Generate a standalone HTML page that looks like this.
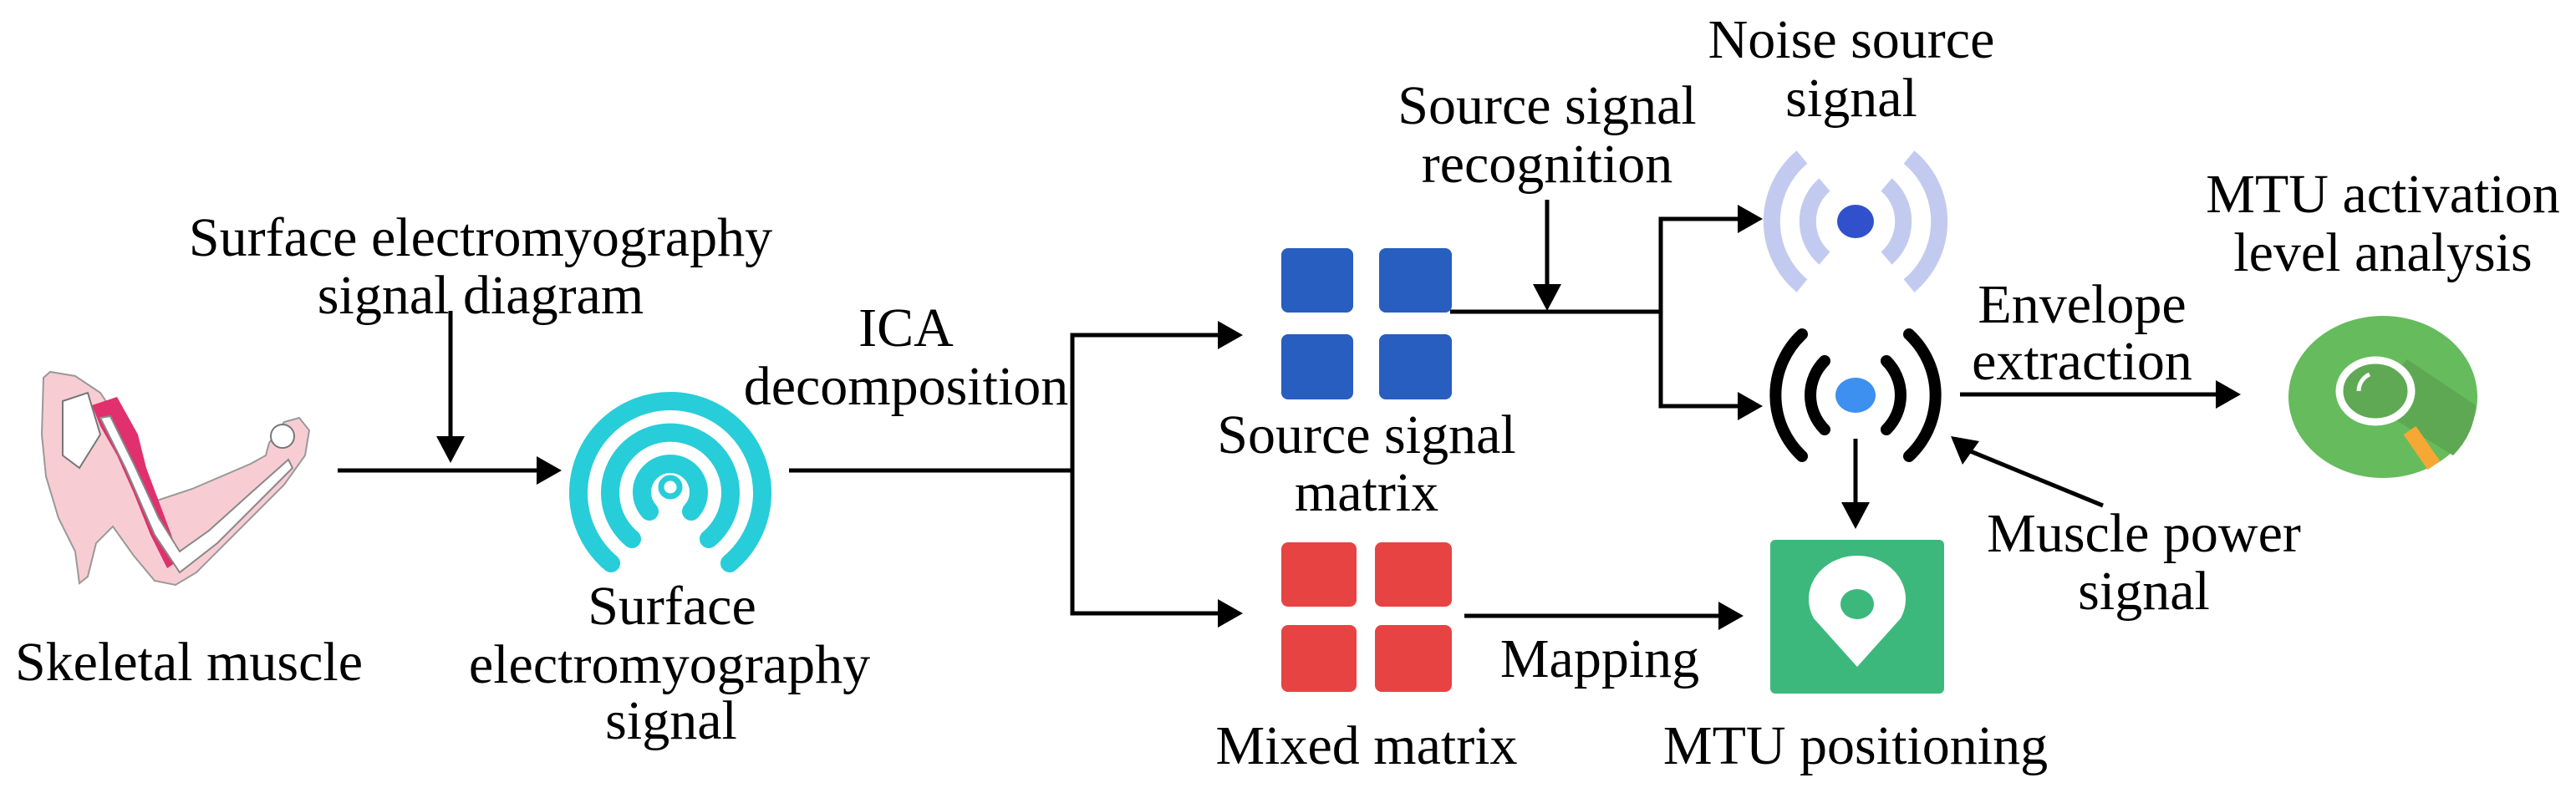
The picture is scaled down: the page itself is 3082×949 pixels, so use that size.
<!DOCTYPE html>
<html><head><meta charset="utf-8"><style>
html,body{margin:0;padding:0;background:#fff;}
body{position:relative;width:3082px;height:949px;overflow:hidden;}
svg{display:block;position:absolute;left:0;top:0}
.t{position:absolute;font-family:"Liberation Serif","Times New Roman",serif;font-size:66px;line-height:66px;color:#000;white-space:nowrap;transform:translateX(-50%);}
</style></head><body>
<svg width="3082" height="949" viewBox="0 0 3082 949" xmlns="http://www.w3.org/2000/svg">
<g stroke="#000" stroke-width="5" fill="none">
<line x1="404" y1="563" x2="645" y2="563"/>
<line x1="539" y1="372" x2="539" y2="525"/>
<line x1="944" y1="563" x2="1283" y2="563"/>
<polyline points="1460,401 1283,401 1283,734 1460,734"/>
<line x1="1735" y1="373" x2="1987" y2="373"/>
<line x1="1851" y1="239" x2="1851" y2="345"/>
<polyline points="2082,262 1987,262 1987,486 2082,486"/>
<line x1="1752" y1="737" x2="2058" y2="737"/>
<line x1="2220" y1="525" x2="2220" y2="605"/>
<line x1="2345" y1="472" x2="2653" y2="472"/>
<line x1="2516" y1="605" x2="2355" y2="539"/>
</g>
<g fill="#000">
<polygon points="672,563 642,546 642,580"/>
<polygon points="539,554 522,522 556,522"/>
<polygon points="1487,401 1457,384 1457,418"/>
<polygon points="1487,734 1457,717 1457,751"/>
<polygon points="1851,372 1834,340 1868,340"/>
<polygon points="2109,262 2079,245 2079,279"/>
<polygon points="2109,486 2079,469 2079,503"/>
<polygon points="2086,737 2056,720 2056,754"/>
<polygon points="2220,633 2203,601 2237,601"/>
<polygon points="2681,472 2651,455 2651,489"/>
<polygon points="2334,522 2348,556 2368,528"/>
</g>
<g>
<path d="M52,452 L60,445 L90,450 L120,470 L140,500 L160,545 L175,575 L185,600 L230,585 L300,555 L318,545 L322,530 L340,505 L358,500 L370,515 L365,545 L340,580 L300,620 L265,655 L235,685 L210,700 L185,695 L160,665 L135,630 L115,650 L105,690 L95,698 L90,660 L80,640 L70,620 L55,570 L50,520 Z" fill="#f7cdd3" stroke="#999" stroke-width="2"/>
<path d="M110,485 L140,475 L165,520 L175,560 L190,600 L205,640 L215,670 L200,680 L180,640 L160,590 L140,545 L120,510 Z" fill="#e0306e"/>
<path d="M75,480 L105,470 L120,520 L95,560 L75,545 Z" fill="#fff" stroke="#777" stroke-width="2"/>
<path d="M120,500 L150,560 L185,640 L215,685 L260,650 L310,600 L350,560 L345,550 L300,590 L250,635 L215,660 L190,620 L160,555 L132,498 Z" fill="#fff" stroke="#888" stroke-width="2"/>
<circle cx="338" cy="522" r="14" fill="#fff" stroke="#777" stroke-width="2"/>
</g>
<g fill="none" stroke="#27cdd9" stroke-width="22" stroke-linecap="round">
<path d="M731,674 A110,110 0 1 1 873,674"/>
<path d="M756,645 A72,72 0 1 1 848,645"/>
<path d="M777,612 A34,34 0 1 1 827,612"/>
</g>
<circle cx="802" cy="583" r="11" fill="none" stroke="#27cdd9" stroke-width="7"/>
<g fill="#275ebf">
<rect x="1533" y="297" width="86" height="77" rx="8"/>
<rect x="1650" y="297" width="87" height="77" rx="8"/>
<rect x="1533" y="400" width="86" height="78" rx="8"/>
<rect x="1650" y="400" width="87" height="78" rx="8"/>
</g>
<g fill="#e84343">
<rect x="1533" y="649" width="90" height="77" rx="8"/>
<rect x="1645" y="649" width="92" height="77" rx="8"/>
<rect x="1533" y="748" width="90" height="80" rx="8"/>
<rect x="1645" y="748" width="92" height="80" rx="8"/>
</g>
<g fill="none" stroke="#c2cbef" stroke-width="20">
<path d="M2284,188 A100,100 0 0 1 2284,342"/>
<path d="M2156,188 A100,100 0 0 0 2156,342"/>
<path d="M2257,221 A58,58 0 0 1 2257,309"/>
<path d="M2183,221 A58,58 0 0 0 2183,309"/>
</g>
<ellipse cx="2220" cy="265" rx="22" ry="20" fill="#3150cc"/>
<g fill="none" stroke="#000" stroke-width="14" stroke-linecap="round">
<path d="M2284,400 A100,100 0 0 1 2284,546"/>
<path d="M2156,400 A100,100 0 0 0 2156,546"/>
<path d="M2257,432 A58,58 0 0 1 2257,514"/>
<path d="M2183,432 A58,58 0 0 0 2183,514"/>
</g>
<ellipse cx="2220" cy="473" rx="24" ry="21" fill="#3d8ff0"/>
<rect x="2118" y="646" width="208" height="184" rx="6" fill="#3db87c"/>
<path d="M2222,798 L2170,740 A58,52 0 1 1 2274,740 Z" fill="#fff"/>
<ellipse cx="2222" cy="723" rx="20" ry="18" fill="#3db87c"/>
<ellipse cx="2851" cy="475" rx="113" ry="97" fill="#66bb5d"/>
<path d="M2830,480 L2935,545 A113,97 0 0 0 2962,485 L2880,430 Z" fill="#5ea853"/>
<line x1="2883" y1="515" x2="2912" y2="557" stroke="#f5a833" stroke-width="18"/>
<ellipse cx="2842" cy="468" rx="43" ry="37" fill="#5fa955" stroke="#fff" stroke-width="9"/>
<path d="M2822,468 A22,22 0 0 1 2835,448" stroke="#fff" stroke-width="5" fill="none"/>
</svg>

<div class="t" style="left:575px;top:252px">Surface electromyography</div>
<div class="t" style="left:575px;top:321px">signal diagram</div>
<div class="t" style="left:226px;top:760px">Skeletal muscle</div>
<div class="t" style="left:804px;top:693px">Surface</div>
<div class="t" style="left:801px;top:763px">electromyography</div>
<div class="t" style="left:803px;top:830px">signal</div>
<div class="t" style="left:1084px;top:360px">ICA</div>
<div class="t" style="left:1084px;top:430px">decomposition</div>
<div class="t" style="left:1635px;top:488px">Source signal</div>
<div class="t" style="left:1635px;top:557px">matrix</div>
<div class="t" style="left:1635px;top:860px">Mixed matrix</div>
<div class="t" style="left:1851px;top:94px">Source signal</div>
<div class="t" style="left:1851px;top:164px">recognition</div>
<div class="t" style="left:2215px;top:15px">Noise source</div>
<div class="t" style="left:2215px;top:85px">signal</div>
<div class="t" style="left:1914px;top:756px">Mapping</div>
<div class="t" style="left:2220px;top:860px">MTU positioning</div>
<div class="t" style="left:2491px;top:332px">Envelope</div>
<div class="t" style="left:2491px;top:400px">extraction</div>
<div class="t" style="left:2565px;top:606px">Muscle power</div>
<div class="t" style="left:2565px;top:675px">signal</div>
<div class="t" style="left:2851px;top:200px">MTU activation</div>
<div class="t" style="left:2851px;top:270px">level analysis</div>
</body></html>
